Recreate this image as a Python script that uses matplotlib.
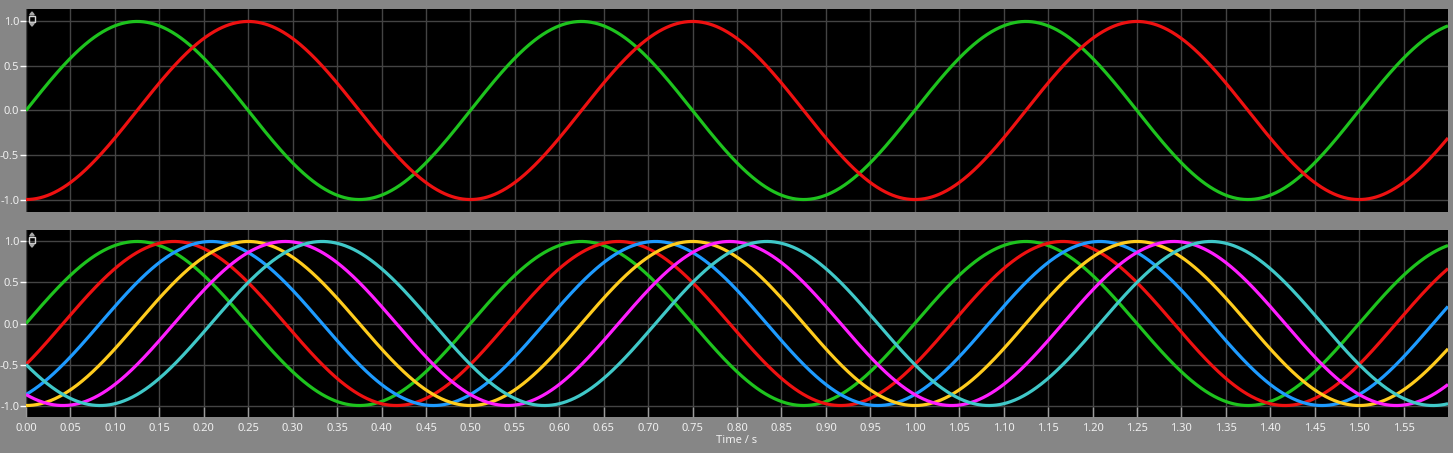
import numpy as np
import matplotlib
matplotlib.use("Agg")
import matplotlib.pyplot as plt
from matplotlib.patches import Rectangle, Polygon

# ---- data ----
freq_hz = 2.0
amplitude = 1.0
t_start, t_end = 0.0, 1.6
n_samples = 2001
top_phases_deg = [0, -90]
top_colors = ["#1ec31e", "#ee1111"]
bottom_phases_deg = [0, -30, -60, -90, -120, -150]
bottom_colors = ["#1ec31e", "#ee1111", "#1e9bff", "#ffcc1e", "#ff1eff", "#40c8c8"]
x_ticks = [round(0.05 * i, 2) for i in range(32)]
x_tick_labels = [f"{v:.2f}" for v in x_ticks]
y_ticks = [-1.0, -0.5, 0.0, 0.5, 1.0]
y_tick_labels = [f"{v:.1f}" for v in y_ticks]
x_label = "Time / s"

t = np.linspace(t_start, t_end, n_samples)

plt.rcParams['font.family'] = ['Noto Sans', 'DejaVu Sans']
plt.rcParams['axes.unicode_minus'] = False

W, H = 1453, 453
fig = plt.figure(figsize=(W / 100, H / 100), dpi=100, facecolor="#868686")

def px_axes(x0, y0, x1, y1):
    return fig.add_axes([x0 / W, 1 - y1 / H, (x1 - x0) / W, (y1 - y0) / H])

ax_top = px_axes(26, 9, 1448, 212)
ax_bot = px_axes(26, 230, 1448, 417)

def style(ax, show_xlabels):
    ax.set_facecolor("black")
    ax.set_xlim(t_start, t_end)
    ax.set_ylim(-1.14, 1.14)
    ax.set_xticks(x_ticks)
    ax.set_yticks(y_ticks)
    ax.set_yticklabels(y_tick_labels)
    if show_xlabels:
        ax.set_xticklabels(x_tick_labels)
    else:
        ax.set_xticklabels([])
    ax.grid(True, color="#444444", linewidth=1.0)
    ax.set_axisbelow(True)
    for s in ax.spines.values():
        s.set_visible(False)
    ax.tick_params(axis="y", direction="out", length=4, width=1, color="white",
                   labelcolor="#f0f0f0", labelsize=8, pad=1)
    ax.tick_params(axis="x", direction="in", length=7 if show_xlabels else 0,
                   width=1, color="#9a9a9a",
                   labelcolor="#f0f0f0", labelsize=8, pad=4)

style(ax_top, False)
style(ax_bot, True)

for ph, c in zip(top_phases_deg, top_colors):
    ax_top.plot(t, amplitude * np.sin(2 * np.pi * freq_hz * t + np.deg2rad(ph)),
                color=c, linewidth=2.3, solid_capstyle="butt")
for ph, c in zip(bottom_phases_deg, bottom_colors):
    ax_bot.plot(t, amplitude * np.sin(2 * np.pi * freq_hz * t + np.deg2rad(ph)),
                color=c, linewidth=2.3, solid_capstyle="butt")

ax_bot.set_xlabel(x_label, color="#f0f0f0", fontsize=8, labelpad=1)

# small scale icon at top-left of each plot (decoration)
def icon(ax):
    tr = ax.transAxes
    bb = ax.get_position()
    axw, axh = bb.width * W, bb.height * H
    def p(x, y):  # pixel offsets from top-left of axes -> axes coords
        return (x / axw, 1 - y / axh)
    ax.add_patch(Rectangle(p(2.8, 12.8), 6.5 / axw, 5.8 / axh, transform=tr,
                           fill=False, edgecolor="#d8d8d8", linewidth=1.0, zorder=5))
    ax.add_patch(Polygon([p(3.8, 5.8), p(8.2, 5.8), p(6.0, 3.0)], transform=tr,
                         color="#a8a8a8", zorder=5))
    ax.add_patch(Polygon([p(3.8, 14.3), p(8.2, 14.3), p(6.0, 17.1)], transform=tr,
                         color="#a8a8a8", zorder=5))

icon(ax_top)
icon(ax_bot)

fig.savefig("out.png", dpi=100, facecolor=fig.get_facecolor())
